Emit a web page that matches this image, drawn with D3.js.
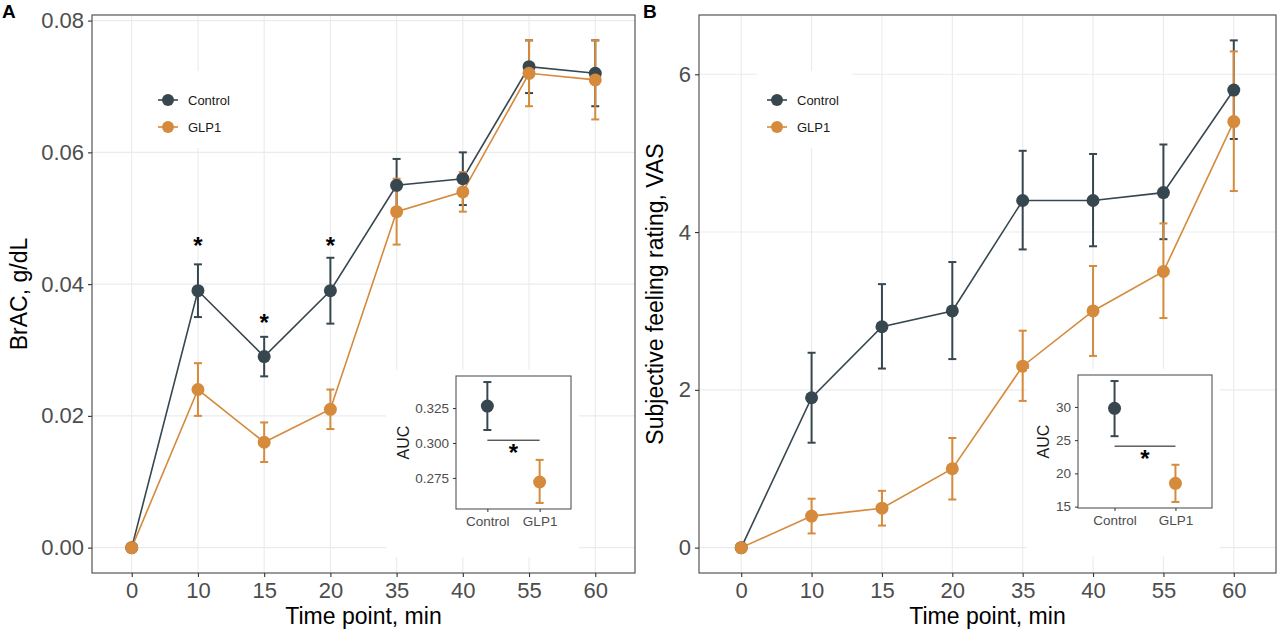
<!DOCTYPE html>
<html lang="en">
<head>
<meta charset="UTF-8">
<title>BrAC and VAS</title>
<style>
  body { margin: 0; background: #fff; }
  svg { display: block; font-family: "Liberation Sans", Arial, Helvetica, sans-serif; }
  .tick text { fill: #4d4d4d; }
  .tick line { stroke: #333; }
  .domain { display: none; }
</style>
</head>
<body>
<div id="chart"></div>
<script src="https://d3js.org/d3.v7.min.js"></script>
<script>
// ---- data ----
var timePoints = ["0", "10", "15", "20", "35", "40", "55", "60"];
var groups = ["Control", "GLP1"];

// panel A: breath alcohol concentration
var bracControl   = [0, 0.039, 0.029, 0.039, 0.055, 0.056, 0.073, 0.072];
var bracControlLo = [0, 0.035, 0.026, 0.034, 0.051, 0.052, 0.069, 0.067];
var bracControlHi = [0, 0.043, 0.032, 0.044, 0.059, 0.060, 0.077, 0.077];
var bracGlp1      = [0, 0.024, 0.016, 0.021, 0.051, 0.054, 0.072, 0.071];
var bracGlp1Lo    = [0, 0.020, 0.013, 0.018, 0.046, 0.051, 0.067, 0.065];
var bracGlp1Hi    = [0, 0.028, 0.019, 0.024, 0.056, 0.057, 0.077, 0.077];
var bracTicks = [0, 0.02, 0.04, 0.06, 0.08];
var bracStarTimes = ["10", "15", "20"];
var bracStarLevels = [0.0466, 0.0348, 0.0466];

var bracAuc   = [0.3264, 0.2721];
var bracAucLo = [0.3093, 0.2571];
var bracAucHi = [0.3436, 0.2879];
var bracAucTicks = [0.275, 0.300, 0.325];
var bracAucSig = 0.302;

// panel B: subjective feeling rating
var vasControl   = [0, 1.9, 2.8, 3.0, 4.4, 4.4, 4.5, 5.8];
var vasControlLo = [0, 1.33, 2.27, 2.39, 3.78, 3.82, 3.91, 5.18];
var vasControlHi = [0, 2.47, 3.34, 3.62, 5.03, 4.99, 5.11, 6.43];
var vasGlp1      = [0, 0.4, 0.5, 1.0, 2.3, 3.0, 3.5, 5.4];
var vasGlp1Lo    = [0, 0.18, 0.28, 0.61, 1.86, 2.43, 2.91, 4.52];
var vasGlp1Hi    = [0, 0.62, 0.72, 1.39, 2.75, 3.57, 4.11, 6.29];
var vasTicks = [0, 2, 4, 6];

var vasAuc   = [29.8, 18.5];
var vasAucLo = [25.6, 15.7];
var vasAucHi = [33.9, 21.3];
var vasAucTicks = [15, 20, 25, 30];
var vasAucSig = 24.1;

var colors = {Control: "#37474f", GLP1: "#d58a3c"};

var W = 1280, H = 634;
var svg = d3.select("#chart").append("svg").attr("width", W).attr("height", H);

// ggplot-like 5% expansion
function expand(lo, hi) {
  var d = (hi - lo) * 0.05;
  return [lo - d, hi + d];
}

function drawPanel(cfg) {
  var g = svg.append("g");
  var x = d3.scalePoint().domain(timePoints).range([cfg.left, cfg.right]).padding(0.6);
  var allLo = d3.min(cfg.series, function(s){ return d3.min(s.lo); });
  var allHi = d3.max(cfg.series, function(s){ return d3.max(s.hi); });
  var y = d3.scaleLinear().domain(expand(allLo, allHi)).range([cfg.bottom, cfg.top]);

  // grid
  var grid = g.append("g").attr("stroke", "#ebebeb").attr("stroke-width", 1.1);
  timePoints.forEach(function(t){
    grid.append("line").attr("x1", x(t)).attr("x2", x(t)).attr("y1", cfg.top).attr("y2", cfg.bottom);
  });
  cfg.ticks.forEach(function(v){
    grid.append("line").attr("x1", cfg.left).attr("x2", cfg.right).attr("y1", y(v)).attr("y2", y(v));
  });

  var line = d3.line().x(function(d){ return x(d.t); }).y(function(d){ return y(d.v); });
  var rows = cfg.series.map(function(s){
    return {name: s.name, pts: timePoints.map(function(t, i){
      return {t: t, v: s.v[i], lo: s.lo[i], hi: s.hi[i]};
    })};
  });

  rows.forEach(function(s){
    g.append("path").attr("d", line(s.pts)).attr("fill", "none")
      .attr("stroke", colors[s.name]).attr("stroke-width", 1.6);
  });
  rows.forEach(function(s){
    var eb = g.append("g").attr("stroke", colors[s.name]).attr("stroke-width", 2);
    s.pts.forEach(function(p){
      if (p.hi === p.lo) return;
      eb.append("line").attr("x1", x(p.t)).attr("x2", x(p.t)).attr("y1", y(p.lo)).attr("y2", y(p.hi));
      [p.lo, p.hi].forEach(function(v){
        eb.append("line").attr("x1", x(p.t) - 4).attr("x2", x(p.t) + 4).attr("y1", y(v)).attr("y2", y(v));
      });
    });
  });
  rows.forEach(function(s){
    g.append("g").selectAll("circle").data(s.pts).join("circle")
      .attr("cx", function(d){ return x(d.t); }).attr("cy", function(d){ return y(d.v); })
      .attr("r", 6.5).attr("fill", colors[s.name]);
  });

  if (cfg.starTimes) {
    cfg.starTimes.forEach(function(t, i){
      g.append("text").attr("x", x(t)).attr("y", y(cfg.starLevels[i]) + 13)
        .attr("text-anchor", "middle").attr("font-size", 24).attr("font-weight", "bold").text("*");
    });
  }

  // border
  g.append("rect").attr("x", cfg.left).attr("y", cfg.top)
    .attr("width", cfg.right - cfg.left).attr("height", cfg.bottom - cfg.top)
    .attr("fill", "none").attr("stroke", "#555").attr("stroke-width", 1.2);

  // axes
  var yAxis = d3.axisLeft(y).tickValues(cfg.ticks).tickSize(4).tickPadding(4).tickFormat(cfg.fmt);
  g.append("g").attr("transform", "translate(" + cfg.left + ",0)").call(yAxis)
    .selectAll("text").attr("font-size", 22);
  var xAxis = d3.axisBottom(x).tickSize(4).tickPadding(5);
  g.append("g").attr("transform", "translate(0," + cfg.bottom + ")").call(xAxis)
    .selectAll("text").attr("font-size", 22);
  g.selectAll(".tick line").attr("stroke", "#333").attr("stroke-width", 1.1);
  g.selectAll(".tick text").attr("font-family", null);

  g.append("text").attr("x", (cfg.left + cfg.right) / 2).attr("y", 624)
    .attr("text-anchor", "middle").attr("font-size", 23).text("Time point, min");
  g.append("text").attr("transform", "translate(" + cfg.ytitleX + "," + (cfg.top + cfg.bottom) / 2 + ") rotate(-90)")
    .attr("text-anchor", "middle").attr("font-size", 23).text(cfg.ytitle);

  g.append("text").attr("x", cfg.letterX).attr("y", 18).attr("font-size", 19)
    .attr("font-weight", "bold").text(cfg.letter);

  // legend
  var lg = g.append("g");
  lg.append("rect").attr("x", cfg.legend.x - 20).attr("y", 71).attr("width", 95).attr("height", 77).attr("fill", "#fff");
  groups.forEach(function(name, i){
    var ly = 100 + i * 27;
    lg.append("line").attr("x1", cfg.legend.x - 10).attr("x2", cfg.legend.x + 10)
      .attr("y1", ly).attr("y2", ly).attr("stroke", colors[name]).attr("stroke-width", 1.6);
    lg.append("circle").attr("cx", cfg.legend.x).attr("cy", ly).attr("r", 6).attr("fill", colors[name]);
    lg.append("text").attr("x", cfg.legend.x + 20).attr("y", ly + 4.5).attr("font-size", 13)
      .attr("fill", "#1a1a1a").text(name);
  });

  drawInset(g, cfg.inset);
}

function drawInset(parent, c) {
  var g = parent.append("g");
  g.append("rect").attr("x", c.bg[0]).attr("y", c.bg[1]).attr("width", c.bg[2] - c.bg[0])
    .attr("height", c.bg[3] - c.bg[1]).attr("fill", "#fff");
  var x = d3.scalePoint().domain(groups).range([c.left, c.right]).padding(0.6);
  var y = d3.scaleLinear().domain(expand(d3.min(c.lo), d3.max(c.hi))).range([c.bottom, c.top]);

  groups.forEach(function(name, i){
    var eb = g.append("g").attr("stroke", colors[name]).attr("stroke-width", 2);
    eb.append("line").attr("x1", x(name)).attr("x2", x(name)).attr("y1", y(c.lo[i])).attr("y2", y(c.hi[i]));
    [c.lo[i], c.hi[i]].forEach(function(v){
      eb.append("line").attr("x1", x(name) - 4).attr("x2", x(name) + 4).attr("y1", y(v)).attr("y2", y(v));
    });
    g.append("circle").attr("cx", x(name)).attr("cy", y(c.v[i])).attr("r", 6.5).attr("fill", colors[name]);
  });

  g.append("line").attr("x1", x(groups[0])).attr("x2", x(groups[1]))
    .attr("y1", y(c.sig)).attr("y2", y(c.sig)).attr("stroke", "#111").attr("stroke-width", 1);
  g.append("text").attr("x", (x(groups[0]) + x(groups[1])) / 2).attr("y", y(c.sig) + 21)
    .attr("text-anchor", "middle").attr("font-size", 24).attr("font-weight", "bold").text("*");

  g.append("rect").attr("x", c.left).attr("y", c.top).attr("width", c.right - c.left)
    .attr("height", c.bottom - c.top).attr("fill", "none").attr("stroke", "#555").attr("stroke-width", 1.1);

  g.append("g").attr("transform", "translate(" + c.left + ",0)")
    .call(d3.axisLeft(y).tickValues(c.ticks).tickSize(3).tickPadding(4).tickFormat(c.fmt))
    .selectAll("text").attr("font-size", 13.5);
  g.append("g").attr("transform", "translate(0," + c.bottom + ")")
    .call(d3.axisBottom(x).tickSize(3).tickPadding(4))
    .selectAll("text").attr("font-size", 13.5);
  g.selectAll(".tick text").attr("font-family", null);

  g.append("text").attr("transform", "translate(" + c.titleX + "," + (c.top + c.bottom) / 2 + ") rotate(-90)")
    .attr("text-anchor", "middle").attr("font-size", 16).attr("fill", "#1a1a1a").text("AUC");
}

drawPanel({
  left: 92, right: 635, top: 15, bottom: 573,
  series: [
    {name: "Control", v: bracControl, lo: bracControlLo, hi: bracControlHi},
    {name: "GLP1", v: bracGlp1, lo: bracGlp1Lo, hi: bracGlp1Hi}
  ],
  ticks: bracTicks, fmt: d3.format(".2f"),
  starTimes: bracStarTimes, starLevels: bracStarLevels,
  ytitle: "BrAC, g/dL", ytitleX: 27,
  letter: "A", letterX: 2,
  legend: {x: 168},
  inset: {
    bg: [386, 370, 579, 557],
    left: 456, right: 571, top: 376, bottom: 509,
    v: bracAuc, lo: bracAucLo, hi: bracAucHi, ticks: bracAucTicks, sig: bracAucSig,
    fmt: d3.format(".3f"), titleX: 409
  }
});

drawPanel({
  left: 699, right: 1276, top: 15, bottom: 573,
  series: [
    {name: "Control", v: vasControl, lo: vasControlLo, hi: vasControlHi},
    {name: "GLP1", v: vasGlp1, lo: vasGlp1Lo, hi: vasGlp1Hi}
  ],
  ticks: vasTicks, fmt: d3.format("d"),
  ytitle: "Subjective feeling rating, VAS", ytitleX: 663,
  letter: "B", letterX: 643,
  legend: {x: 777},
  inset: {
    bg: [1027, 369, 1220, 556],
    left: 1078, right: 1212, top: 375, bottom: 508,
    v: vasAuc, lo: vasAucLo, hi: vasAucHi, ticks: vasAucTicks, sig: vasAucSig,
    fmt: d3.format("d"), titleX: 1049
  }
});
</script>
</body>
</html>
